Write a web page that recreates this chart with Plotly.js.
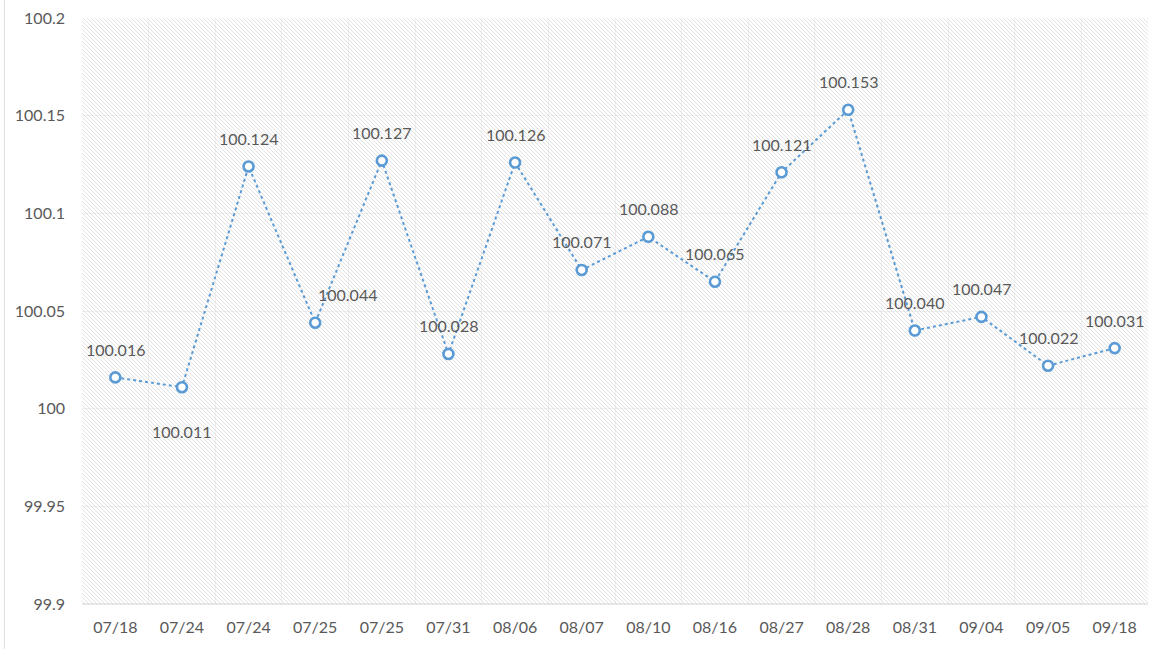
<!DOCTYPE html>
<html>
<head>
<meta charset="utf-8">
<script src="https://cdn.plot.ly/plotly-3.0.1.min.js"></script>
<style>
  body { margin: 0; background: #fff; }
  #wrap { position: relative; width: 1153px; height: 649px; }
  /* hatched plot background, sits under the transparent plot area */
  #hatch {
    position: absolute; left: 82px; top: 18px; width: 1066px; height: 586px;
    background: repeating-linear-gradient(45deg, #ffffff 0px, #ffffff 2.05px, #e2e2e2 2.05px, #e2e2e2 2.8284px);
  }
  #edge { position: absolute; left: 4px; top: 0; width: 1px; height: 649px; background: #e0e0e0; }
  #chart { position: absolute; left: 0; top: 0; width: 1153px; height: 649px; }
</style>
</head>
<body>
<div id="wrap">
  <div id="hatch"></div>
  <div id="edge"></div>
  <div id="chart"></div>
</div>
<script>
// categories (dates repeat, so points sit on index positions)
const dates = ['07/18', '07/24', '07/24', '07/25', '07/25', '07/31', '08/06', '08/07',
               '08/10', '08/16', '08/27', '08/28', '08/31', '09/04', '09/05', '09/18'];
const values = [100.016, 100.011, 100.124, 100.044, 100.127, 100.028, 100.126, 100.071,
                100.088, 100.065, 100.121, 100.153, 100.040, 100.047, 100.022, 100.031];
const yTickVals = [99.9, 99.95, 100, 100.05, 100.1, 100.15, 100.2];
const yTickText = ['99.9', '99.95', '100', '100.05', '100.1', '100.15', '100.2'];

const idx = dates.map((d, i) => i);
const blue = '#5b9bd5';
const grey = '#595959';
const font = 'Lato, "Liberation Sans", Arial, sans-serif';

// label placement: most sit above the point
const below = [1];
const right = [3];
const annotations = values.map(function(v, i) {
    let xs = 0, ys = 28;
    if (below.includes(i)) ys = -44;
    if (right.includes(i)) xs = 32;
    return {
        x: i, y: v, xref: 'x', yref: 'y',
        text: v.toFixed(3), showarrow: false,
        xshift: xs, yshift: ys,
        font: { family: font, size: 16, color: grey }
    };
});

const trace = {
    x: idx,
    y: values,
    type: 'scatter',
    mode: 'lines+markers',
    line: { color: blue, width: 2, dash: 'dot' },
    marker: { symbol: 'circle', size: 10, color: '#ffffff', line: { color: blue, width: 2.6 } },
    hoverinfo: 'y'
};

const layout = {
    width: 1153,
    height: 649,
    margin: { l: 82, r: 5, t: 18, b: 45 },
    paper_bgcolor: 'rgba(0,0,0,0)',
    plot_bgcolor: 'rgba(0,0,0,0)',
    showlegend: false,
    font: { family: font, size: 16, color: grey },
    xaxis: {
        range: [-0.5, dates.length - 0.5],
        tickvals: idx,
        ticktext: dates,
        showgrid: false,
        zeroline: false,
        showline: false,
        ticks: '',
        ticklabelstandoff: 12,
        minor: { tick0: -0.5, dtick: 1, showgrid: true, gridcolor: 'rgba(215,215,215,0.35)', gridwidth: 1, ticks: '' },
        tickfont: { family: font, size: 16, color: grey }
    },
    yaxis: {
        range: [99.9, 100.2],
        tickvals: yTickVals,
        ticktext: yTickText,
        showgrid: true,
        gridcolor: 'rgba(215,215,215,0.4)',
        zeroline: false,
        showline: false,
        ticks: '',
        ticklabelstandoff: 16,
        tickfont: { family: font, size: 16, color: grey }
    },
    shapes: [{
        type: 'line', xref: 'paper', yref: 'paper', x0: 0, x1: 1, y0: 0, y1: 0,
        line: { color: '#d0d0d0', width: 1 }
    }],
    annotations: annotations
};

Plotly.newPlot('chart', [trace], layout, { staticPlot: true });
</script>
</body>
</html>
